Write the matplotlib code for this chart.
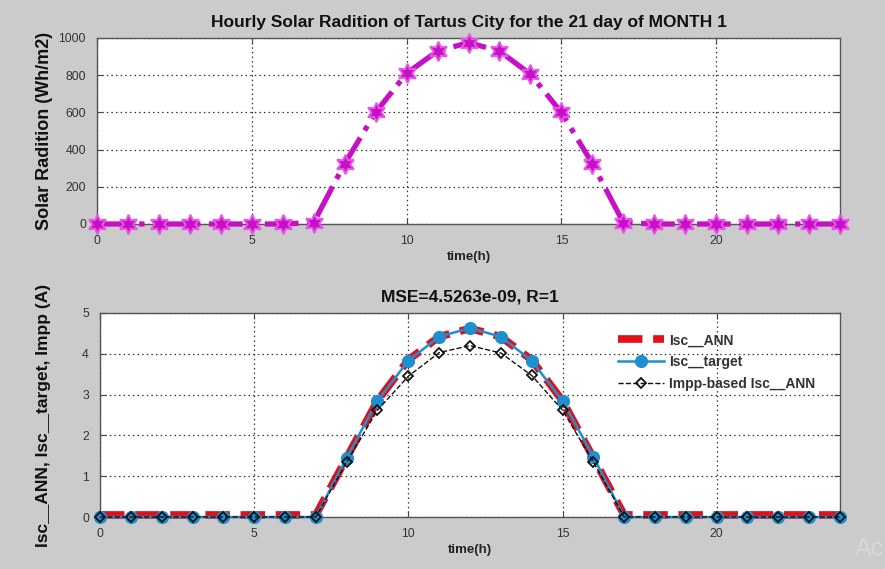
import matplotlib
matplotlib.use("Agg")
import matplotlib.pyplot as plt
import numpy as np

plt.rcParams['font.family'] = ['Liberation Sans', 'DejaVu Sans']

hours = list(range(25))
radiation = [0, 0, 0, 0, 0, 0, 0, 8, 325, 600, 810, 930, 975, 930, 805,
             600, 325, 8, 0, 0, 0, 0, 0, 0, 0]
isc_ann = [0.05, 0.05, 0.05, 0.05, 0.05, 0.05, 0.05, 0.05, 1.45, 2.85, 3.85, 4.42, 4.62,
           4.42, 3.85, 2.85, 1.45, 0.05, 0.05, 0.05, 0.05, 0.05, 0.05, 0.05, 0.05]
isc_target = [0, 0, 0, 0, 0, 0, 0, 0, 1.45, 2.85, 3.83, 4.42, 4.63,
              4.42, 3.83, 2.85, 1.48, 0, 0, 0, 0, 0, 0, 0, 0]
impp_based = [0, 0, 0, 0, 0, 0, 0, 0, 1.35, 2.62, 3.45, 4.03, 4.2,
              4.02, 3.47, 2.62, 1.35, 0, 0, 0, 0, 0, 0, 0, 0]

title_top = "Hourly Solar Radition of Tartus City for the 21 day of MONTH 1"
title_bottom = "MSE=4.5263e-09, R=1"
xlabel = "time(h)"
ylabel_top = "Solar Radition (Wh/m2)"
ylabel_bottom = "Isc__ANN, Isc__target, Impp (A)"
legend_labels = ["Isc__ANN", "Isc__target", "Impp-based Isc__ANN"]

W, H = 885, 569
fig = plt.figure(figsize=(W / 100, H / 100), dpi=100, facecolor='#cbcbcb')


def box(l, t, r, b):
    return [l / W, 1 - b / H, (r - l) / W, (b - t) / H]


def style(ax):
    ax.set_facecolor('white')
    ax.grid(True, color='#333333', linestyle=(0, (1.2, 2.5)), linewidth=0.9)
    ax.tick_params(direction='in', length=4, labelsize=8.8, colors='#444444',
                   top=True, right=True, pad=8)
    for lab in ax.get_xticklabels() + ax.get_yticklabels():
        lab.set_color('#333333')
    for s in ax.spines.values():
        s.set_color('#555555')
        s.set_linewidth(1.0)


# Upper panel: solar radiation
ax1 = fig.add_axes(box(97, 38, 840, 224))
ax1.plot(hours, radiation, color='#c610c6', linestyle='-.', linewidth=3.8,
         marker=(6, 1, 0), markersize=14, markerfacecolor='#c610c6',
         markeredgecolor='#e855e8', markeredgewidth=1.4, clip_on=False, zorder=5)
ax1.set_xlim(0, 24)
ax1.set_ylim(0, 1000)
ax1.set_xticks([0, 5, 10, 15, 20])
ax1.set_yticks([0, 200, 400, 600, 800, 1000])
style(ax1)
ax1.set_title(title_top, fontsize=12.5, fontweight='bold', color='#111111', pad=8)
ax1.set_xlabel(xlabel, fontsize=9.5, fontweight='bold', color='#222222', labelpad=3)
ax1.set_ylabel(ylabel_top, fontsize=13, fontweight='bold', color='#111111', labelpad=4)

# Lower panel: short-circuit current estimates
ax2 = fig.add_axes(box(100, 313, 840, 517))
ax2.plot(hours, isc_ann, color='#e0101a', linestyle=(0, (3.2, 1.4)), linewidth=5.5,
         label=legend_labels[0], clip_on=False, zorder=3)
ax2.plot(hours, isc_target, color='#1f8fd0', linestyle='-', linewidth=1.8,
         marker='o', markersize=8.5, markerfacecolor='#1f8fd0', markeredgecolor='#1f8fd0',
         label=legend_labels[1], clip_on=False, zorder=4)
ax2.plot(hours, impp_based, color='#111111', linestyle='--', linewidth=1.0,
         marker='D', markersize=5.5, markerfacecolor='none', markeredgecolor='#111111',
         markeredgewidth=1.3, label=legend_labels[2], clip_on=False, zorder=5)
ax2.set_xlim(0, 24)
ax2.set_ylim(0, 5)
ax2.set_xticks([0, 5, 10, 15, 20])
ax2.set_yticks([0, 1, 2, 3, 4, 5])
style(ax2)
ax2.set_title(title_bottom, fontsize=12.5, fontweight='bold', color='#111111', pad=8)
ax2.set_xlabel(xlabel, fontsize=9.5, fontweight='bold', color='#222222', labelpad=3)
ax2.set_ylabel(ylabel_bottom, fontsize=12.5, fontweight='bold', color='#111111', labelpad=22)
leg = ax2.legend(loc='upper right', bbox_to_anchor=(0.982, 0.955), frameon=False,
                 fontsize=10, handlelength=3.3, borderpad=0.3, labelspacing=0.55,
                 handletextpad=0.4)
for t in leg.get_texts():
    t.set_fontweight('bold')
    t.set_color('#333333')

fig.text(855 / W, 1 - 556 / H, "Ac", fontsize=18, color='#d8d8d8')

fig.savefig("out.png", dpi=100, facecolor=fig.get_facecolor())
